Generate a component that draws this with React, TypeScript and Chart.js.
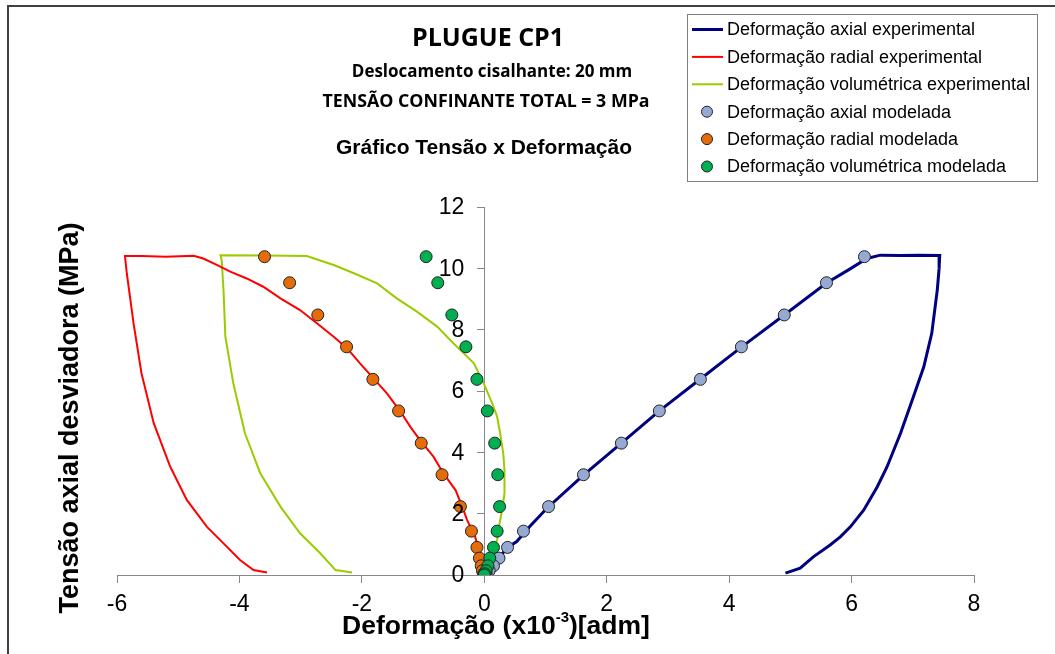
import React, { useEffect, useRef } from "react";
import { Chart, registerables } from "chart.js";

Chart.register(...registerables);

// ---------- DATA ----------
const axialExpX = [0, 0.05, 0.12, 0.21, 0.38, 0.53, 0.75, 1.02, 1.62, 2.24, 2.86, 3.53, 4.2, 4.9, 5.59, 5.95, 6.25, 6.47, 6.8, 7.1, 7.44, 7.43, 7.4, 7.31, 7.18, 7.01, 6.8, 6.58, 6.42, 6.2, 5.98, 5.82, 5.65, 5.38, 5.16, 4.92];
const axialExpY = [0, 0.08, 0.22, 0.49, 0.9, 1.09, 1.6, 2.17, 3.26, 4.3, 5.35, 6.39, 7.43, 8.48, 9.52, 9.95, 10.32, 10.43, 10.42, 10.43, 10.42, 10.0, 9.29, 7.88, 6.79, 5.81, 4.62, 3.53, 2.88, 2.12, 1.57, 1.25, 0.98, 0.6, 0.22, 0.06];

const radialExpX = [0, -0.04, -0.08, -0.15, -0.28, -0.36, -0.47, -0.67, -0.83, -1.05, -1.21, -1.37, -1.59, -1.81, -2.03, -2.24, -2.46, -2.73, -3.01, -3.33, -3.61, -3.88, -4.15, -4.37, -4.59, -4.75, -5.2, -5.6, -5.87, -5.84, -5.73, -5.6, -5.4, -5.13, -4.86, -4.53, -4.26, -3.99, -3.77, -3.55];
const radialExpY = [0, 0.3, 0.76, 1.25, 1.79, 2.23, 2.77, 3.32, 3.86, 4.4, 4.84, 5.33, 5.92, 6.41, 6.9, 7.39, 7.77, 8.2, 8.64, 9.02, 9.4, 9.67, 9.89, 10.11, 10.32, 10.41, 10.38, 10.4, 10.4, 9.84, 8.21, 6.58, 4.95, 3.53, 2.45, 1.57, 1.03, 0.49, 0.16, 0.08];

const volExpX = [0, 0.05, 0.12, 0.21, 0.25, 0.29, 0.33, 0.33, 0.31, 0.26, 0.21, 0.13, -0.01, -0.17, -0.28, -0.5, -0.77, -1.1, -1.43, -1.75, -2.13, -2.46, -2.9, -3.6, -4.31, -4.29, -4.26, -4.23, -4.1, -3.91, -3.66, -3.33, -3.01, -2.68, -2.43, -2.16];
const volExpY = [0, 0.3, 0.7, 1.14, 1.69, 2.12, 2.66, 3.42, 3.97, 4.62, 5.16, 5.6, 6.25, 6.9, 7.12, 7.55, 8.1, 8.59, 9.02, 9.51, 9.84, 10.11, 10.4, 10.42, 10.43, 10.27, 9.29, 7.77, 6.25, 4.62, 3.32, 2.23, 1.36, 0.71, 0.16, 0.08];

const modY = [10.38, 9.53, 8.48, 7.44, 6.38, 5.35, 4.3, 3.27, 2.23, 1.43, 0.9, 0.55, 0.3, 0.14, 0.04, 0];
const axialModX = [6.21, 5.59, 4.9, 4.2, 3.53, 2.86, 2.24, 1.62, 1.05, 0.64, 0.38, 0.24, 0.15, 0.08, 0.03, 0];
const radialModX = [-3.59, -3.18, -2.72, -2.25, -1.82, -1.4, -1.03, -0.69, -0.39, -0.21, -0.12, -0.08, -0.05, -0.03, -0.01, 0];
const volModX = [-0.95, -0.76, -0.53, -0.3, -0.12, 0.05, 0.17, 0.22, 0.25, 0.21, 0.15, 0.09, 0.06, 0.03, 0.01, 0];

const xTicks = [-6, -4, -2, 0, 2, 4, 6, 8];
const yTicks = [0, 2, 4, 6, 8, 10, 12];

const legendLabels = [
  "Deformação axial experimental",
  "Deformação radial experimental",
  "Deformação volumétrica experimental",
  "Deformação axial modelada",
  "Deformação radial modelada",
  "Deformação volumétrica modelada",
];

const NAVY = "#000080";
const RED = "#FF0000";
const LIME = "#99CC00";
const BLUEM = "#95A9D2";
const ORANGEM = "#E46C0A";
const GREENM = "#00B050";

const TICK_FONT = "23px 'Liberation Sans', Arial";

const pts = (xs: number[], ys: number[]) => xs.map((x, i) => ({ x, y: ys[i] }));

const overlay = {
  id: "overlay",
  afterDraw(chart: any) {
    const ctx = chart.ctx as CanvasRenderingContext2D;
    ctx.save();
    // outer frame
    ctx.strokeStyle = "#404040";
    ctx.lineWidth = 2;
    ctx.beginPath();
    ctx.moveTo(8, 654);
    ctx.lineTo(8, 6);
    ctx.lineTo(1055, 6);
    ctx.stroke();

    // y tick labels (left of the axis that crosses at x = 0)
    const ys = chart.scales.y;
    const xs = chart.scales.x;
    const axisX = xs.getPixelForValue(0);
    ctx.fillStyle = "#000";
    ctx.font = TICK_FONT;
    ctx.textAlign = "right";
    ctx.textBaseline = "middle";
    yTicks.forEach((v) => {
      ctx.fillText(String(v), axisX - 20, ys.getPixelForValue(v) + 1);
    });

    // titles
    ctx.textAlign = "center";
    ctx.textBaseline = "alphabetic";
    ctx.font = "bold 25px 'Open Sans'";
    ctx.fillText("PLUGUE CP1", 488, 46);
    ctx.font = "bold 17px 'Open Sans'";
    ctx.fillText("Deslocamento cisalhante: 20 mm", 492, 77);
    ctx.font = "bold 17.8px 'Open Sans'";
    ctx.fillText("TENSÃO CONFINANTE TOTAL = 3 MPa", 486, 107);
    ctx.font = "bold 21px 'Liberation Sans', Arial";
    ctx.fillText("Gráfico Tensão x Deformação", 484, 154);

    // y axis title
    ctx.save();
    ctx.translate(71, 418);
    ctx.rotate(-Math.PI / 2);
    ctx.font = "bold 27px 'Liberation Sans', Arial";
    ctx.textBaseline = "middle";
    ctx.fillText("Tensão axial desviadora (MPa)", 0, 0);
    ctx.restore();

    // x axis title with superscript
    const big = "bold 26.5px 'Liberation Sans', Arial";
    const small = "bold 15px 'Liberation Sans', Arial";
    const p1 = "Deformação (x10";
    const p2 = "-3";
    const p3 = ")[adm]";
    ctx.font = big;
    const w1 = ctx.measureText(p1).width;
    const w3 = ctx.measureText(p3).width;
    ctx.font = small;
    const w2 = ctx.measureText(p2).width;
    const total = w1 + w2 + w3;
    let sx = 496 - total / 2;
    ctx.textAlign = "left";
    ctx.font = big;
    ctx.fillText(p1, sx, 634);
    sx += w1;
    ctx.font = small;
    ctx.fillText(p2, sx, 622);
    sx += w2;
    ctx.font = big;
    ctx.fillText(p3, sx, 634);

    // legend
    ctx.strokeStyle = "#808080";
    ctx.lineWidth = 1;
    ctx.strokeRect(687.5, 14.5, 350, 167);
    ctx.font = "18px 'Liberation Sans', Arial";
    ctx.textBaseline = "middle";
    ctx.textAlign = "left";
    const lineCols = [NAVY, RED, LIME];
    const lineW = [3, 2, 2];
    const dotCols = [BLUEM, ORANGEM, GREENM];
    legendLabels.forEach((lab, i) => {
      const y = 29.5 + i * 27.4;
      if (i < 3) {
        ctx.strokeStyle = lineCols[i];
        ctx.lineWidth = lineW[i];
        ctx.beginPath();
        ctx.moveTo(692, y);
        ctx.lineTo(723, y);
        ctx.stroke();
      } else {
        ctx.fillStyle = dotCols[i - 3];
        ctx.strokeStyle = "#222";
        ctx.lineWidth = 1;
        ctx.beginPath();
        ctx.arc(707, y, 5.5, 0, Math.PI * 2);
        ctx.fill();
        ctx.stroke();
      }
      ctx.fillStyle = "#000";
      ctx.fillText(lab, 727, y + 1);
    });
    ctx.restore();
  },
};

export default function App() {
  const ref = useRef<HTMLCanvasElement | null>(null);
  useEffect(() => {
    if (!ref.current) return;
    const lineDs = (label: string, xs: number[], ys: number[], color: string, w: number, order: number) => ({
      label,
      data: pts(xs, ys),
      showLine: true,
      borderColor: color,
      backgroundColor: color,
      borderWidth: w,
      pointRadius: 0,
      pointHoverRadius: 0,
      tension: 0,
      order,
    });
    const dotDs = (label: string, xs: number[], ys: number[], color: string, order: number) => ({
      label,
      data: pts(xs, ys),
      showLine: false,
      backgroundColor: color,
      borderColor: "#222",
      borderWidth: 1,
      pointRadius: 6,
      order,
    });
    const chart = new Chart(ref.current, {
      type: "scatter",
      data: {
        datasets: [
          lineDs(legendLabels[0], axialExpX, axialExpY, NAVY, 3, 4),
          lineDs(legendLabels[1], radialExpX, radialExpY, RED, 2, 5),
          lineDs(legendLabels[2], volExpX, volExpY, LIME, 2, 6),
          dotDs(legendLabels[3], axialModX, modY, BLUEM, 3),
          dotDs(legendLabels[4], radialModX, modY, ORANGEM, 2),
          dotDs(legendLabels[5], volModX, modY, GREENM, 1),
        ] as any,
      },
      options: {
        responsive: false,
        animation: false,
        devicePixelRatio: 1,
        layout: { padding: { left: 117, right: 81, top: 207, bottom: 0 } },
        plugins: { legend: { display: false }, tooltip: { enabled: false }, title: { display: false } },
        scales: {
          x: {
            type: "linear",
            min: -6,
            max: 8,
            afterFit: (s: any) => { s.height = 79; },
            afterBuildTicks: (s: any) => { s.ticks = xTicks.map((v) => ({ value: v })); },
            ticks: { color: "#000", font: { size: 23, family: "'Liberation Sans', Arial" }, padding: 8, maxRotation: 0 },
            grid: { drawOnChartArea: false, drawTicks: true, tickLength: 8, color: "#888" },
            border: { color: "#888", width: 1 },
          },
          y: {
            type: "linear",
            position: { x: 0 } as any,
            min: 0,
            max: 12,
            afterBuildTicks: (s: any) => { s.ticks = yTicks.map((v) => ({ value: v })); },
            ticks: { display: false },
            grid: { drawOnChartArea: false, drawTicks: true, tickLength: 7, color: "#888" },
            border: { color: "#888", width: 1 },
          },
        },
      },
      plugins: [overlay],
    });
    return () => chart.destroy();
  }, []);
  return (
    <div style={{ position: "absolute", left: 0, top: 0, width: 1055, height: 654, background: "#fff" }}>
      <canvas ref={ref} width={1055} height={654} style={{ display: "block" }} />
    </div>
  );
}
